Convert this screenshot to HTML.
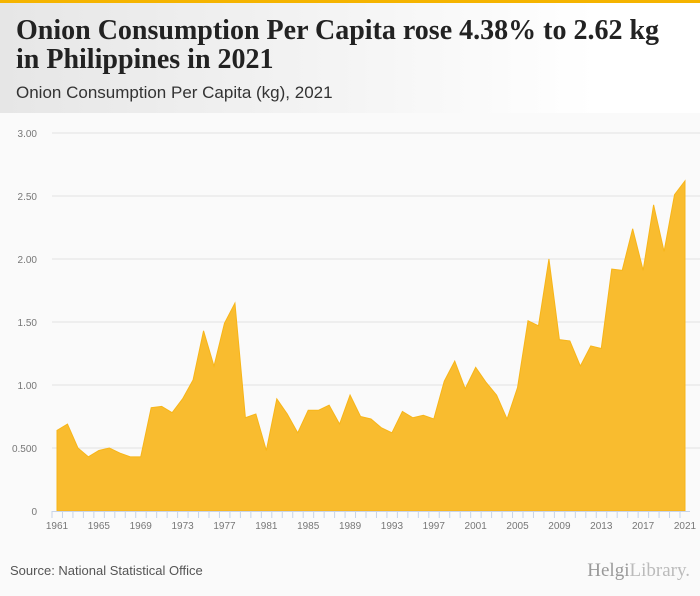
<!DOCTYPE html>
<html><head><meta charset="utf-8"><style>
body{margin:0;width:700px;height:596px;background:#fafafa;font-family:"Liberation Sans",sans-serif;overflow:hidden;position:relative}
#hdr{position:absolute;left:0;top:0;width:700px;height:113px;background:linear-gradient(90deg,#e6e6e6,#ffffff 85%);border-top:3px solid #f5b400;box-sizing:border-box}
#title{position:absolute;left:16px;top:13px;font-family:"Liberation Serif",serif;font-weight:bold;font-size:28px;line-height:29px;color:#222;letter-spacing:0px;white-space:nowrap}
#sub{position:absolute;left:16px;top:80px;font-size:17px;color:#333}
#src{position:absolute;left:10px;top:563px;font-size:13px;color:#555}
#logo{position:absolute;right:10px;top:560px;font-family:"Liberation Serif",serif;font-size:19px;color:#999}
svg{position:absolute;left:0;top:0}
</style></head><body>
<div id="hdr">
<div id="title">Onion Consumption Per Capita rose 4.38% to 2.62 kg<br>in Philippines in 2021</div>
<div id="sub">Onion Consumption Per Capita (kg), 2021</div>
</div>
<svg id="chart" width="700" height="596"></svg>
<div id="src">Source: National Statistical Office</div>
<div id="logo">Helgi<span style="color:#bbb">Library.</span></div>
<script>
const years=[1961,1962,1963,1964,1965,1966,1967,1968,1969,1970,1971,1972,1973,1974,1975,1976,1977,1978,1979,1980,1981,1982,1983,1984,1985,1986,1987,1988,1989,1990,1991,1992,1993,1994,1995,1996,1997,1998,1999,2000,2001,2002,2003,2004,2005,2006,2007,2008,2009,2010,2011,2012,2013,2014,2015,2016,2017,2018,2019,2020,2021];
const values=[0.64,0.69,0.50,0.43,0.48,0.50,0.46,0.43,0.43,0.82,0.83,0.78,0.89,1.04,1.43,1.15,1.49,1.65,0.74,0.77,0.48,0.89,0.77,0.62,0.80,0.80,0.84,0.69,0.92,0.75,0.73,0.66,0.62,0.79,0.74,0.76,0.73,1.03,1.19,0.97,1.14,1.02,0.92,0.73,0.98,1.51,1.47,2.00,1.36,1.35,1.15,1.31,1.29,1.92,1.91,2.24,1.91,2.43,2.06,2.51,2.62];
const yTicks=[0,0.5,1,1.5,2,2.5,3];
const yLabels=["0","0.500","1.00","1.50","2.00","2.50","3.00"];
const ns="http://www.w3.org/2000/svg";
const svg=document.getElementById('chart');
const X=y=>57+(y-1961)*(685-57)/60;
const Y=v=>511-v*126;
function mk(t,a){const e=document.createElementNS(ns,t);for(const k in a)e.setAttribute(k,a[k]);svg.appendChild(e);return e;}
yTicks.forEach((t,i)=>{
  if(t>0){const g=mk('line',{x1:52,x2:700,y1:Y(t),y2:Y(t),stroke:'#e2e2e2','stroke-width':1});
  
  }
  const l=mk('text',{x:37,y:Y(t)+4,'text-anchor':'end','font-size':10,fill:'#777','font-family':'Liberation Sans'});
  l.textContent=yLabels[i];
  
  
});
let d='M'+X(years[0])+','+Y(0);
years.forEach((yr,i)=>{d+=' L'+X(yr)+','+Y(values[i]);});
d+=' L'+X(years[years.length-1])+','+Y(0)+' Z';
const area=mk('path',{d:d,fill:'#f9bc2f',stroke:'#f7b519','stroke-width':1});


const ax=mk('line',{x1:52,x2:690,y1:511.5,y2:511.5,stroke:'#c8d4e8','stroke-width':1});


years.forEach((yr,i)=>{
  const tk=mk('line',{x1:X(yr)-5,x2:X(yr)-5,y1:511,y2:518,stroke:'#c8d4e8','stroke-width':1});
  
  
  if(i%4===0){const l=mk('text',{x:X(yr),y:529,'text-anchor':'middle','font-size':10,fill:'#777','font-family':'Liberation Sans'});
  l.textContent=yr;
  
  }
});
</script>
</body></html>
